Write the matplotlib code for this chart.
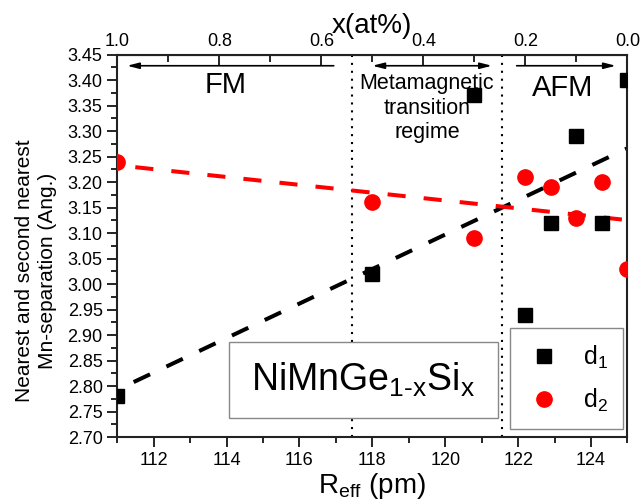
import numpy as np
import matplotlib
matplotlib.use("Agg")
import matplotlib.pyplot as plt
from matplotlib.ticker import MultipleLocator, FormatStrFormatter
from matplotlib.patches import Rectangle

plt.rcParams["font.family"] = ["Liberation Sans", "DejaVu Sans"]
plt.rcParams["mathtext.fontset"] = "custom"
plt.rcParams["mathtext.rm"] = "Liberation Sans"
plt.rcParams["mathtext.it"] = "Liberation Sans"

# effective radius (pm) and Mn-Mn separations (Angstrom)
r_eff = [111.0, 118.0, 120.8, 122.2, 122.9, 123.6, 124.3, 125.0]
d1 = [2.78, 3.02, 3.37, 2.94, 3.12, 3.29, 3.12, 3.40]
d2 = [3.24, 3.16, 3.09, 3.21, 3.19, 3.13, 3.20, 3.03]

# regime boundaries (pm)
boundaries = [117.45, 121.55]

fig = plt.figure(figsize=(6.44, 5.04), dpi=100)
ax = fig.add_axes([0.1821, 0.1329, 0.7922, 0.7589])

# linear fits drawn over the whole R range
xr = np.array([111.0, 125.0])
for y, c in [(d1, "black"), (d2, "red")]:
    p = np.polyfit(r_eff, y, 1)
    ax.plot(xr, np.polyval(p, xr), color=c, lw=2.9,
            linestyle=(4.5, (4.5, 4.5)), zorder=2)

ax.plot(r_eff, d1, "s", color="black", ms=9.5, ls="none", label="d$_1$", zorder=3)
ax.plot(r_eff, d2, "o", color="red", ms=11, ls="none", label="d$_2$", zorder=3)

for b in boundaries:
    ax.axvline(b, color="black", ls=(0, (1, 2.8)), lw=1.5, zorder=1)

# regime arrows
ya = 3.428
arw = dict(arrowstyle="-|>,head_length=0.7,head_width=0.18", color="black", lw=1.2,
           shrinkA=0, shrinkB=0)
ax.annotate("", xy=(111.27, ya), xytext=(116.94, ya), arrowprops=arw)
ax.annotate("", xy=(124.68, ya), xytext=(121.96, ya), arrowprops=arw)
arw2 = dict(arw, arrowstyle="<|-|>,head_length=0.7,head_width=0.18")
ax.annotate("", xy=(118.0, ya), xytext=(121.28, ya), arrowprops=arw2)

ax.text(113.96, 3.39, "FM", fontsize=21, ha="center", va="center")
ax.text(123.23, 3.385, "AFM", fontsize=21, ha="center", va="center")
ax.text(119.5, 3.345, "Metamagnetic\ntransition\nregime", fontsize=15.5,
        ha="center", va="center", linespacing=1.2)

# compound label box
ax.add_patch(Rectangle((0.219, 0.050), 0.527, 0.198, transform=ax.transAxes,
                       fill=True, facecolor="white", edgecolor="#888888", lw=1.0, zorder=4))
ax.text(0.4825, 0.149, r"NiMnGe$_{\mathregular{1\text{-}x}}$Si$_{\mathregular{x}}$",
        transform=ax.transAxes, fontsize=27, ha="center", va="center", zorder=5)

ax.set_xlim(111, 125)
ax.set_ylim(2.70, 3.45)
ax.xaxis.set_major_locator(MultipleLocator(2))
ax.xaxis.set_minor_locator(MultipleLocator(1))
ax.yaxis.set_major_locator(MultipleLocator(0.05))
ax.yaxis.set_minor_locator(MultipleLocator(0.025))
ax.yaxis.set_major_formatter(FormatStrFormatter("%.2f"))
ax.tick_params(which="both", direction="out", width=1.2, labelsize=13, top=False, right=False)
ax.tick_params(which="major", length=7)
ax.tick_params(which="minor", length=4)
for s in ax.spines.values():
    s.set_linewidth(1.5)
    s.set_color("#222222")

ax.set_xlabel(r"R$_{\mathregular{eff}}$ (pm)", fontsize=20, labelpad=2)
ax.set_ylabel("Nearest and second nearest\nMn-separation (Ang.)", fontsize=15,
              linespacing=1.25)
ax.yaxis.set_label_coords(-0.118, 0.435)

top = ax.secondary_xaxis("top", functions=(lambda r: (125 - r) / 14.0,
                                           lambda x: 125 - 14.0 * x))
top.set_xticks([1.0, 0.8, 0.6, 0.4, 0.2, 0.0])
top.set_xticks([0.9, 0.7, 0.5, 0.3, 0.1], minor=True)
top.xaxis.set_major_formatter(FormatStrFormatter("%.1f"))
top.tick_params(which="both", direction="in", width=1.2, labelsize=13, pad=3)
top.tick_params(which="major", length=7)
top.tick_params(which="minor", length=5)
top.set_xlabel("x(at%)", fontsize=20, labelpad=0.5)

leg = ax.legend(loc="lower right", bbox_to_anchor=(0.991, 0.021), fontsize=18,
                frameon=True, fancybox=False, edgecolor="#888888", framealpha=1,
                handlelength=1.5, handletextpad=0.8, borderpad=0.6, labelspacing=0.65,
                borderaxespad=0)
leg.get_frame().set_linewidth(1.0)
leg.set_zorder(6)

fig.savefig("out.png", dpi=100)
